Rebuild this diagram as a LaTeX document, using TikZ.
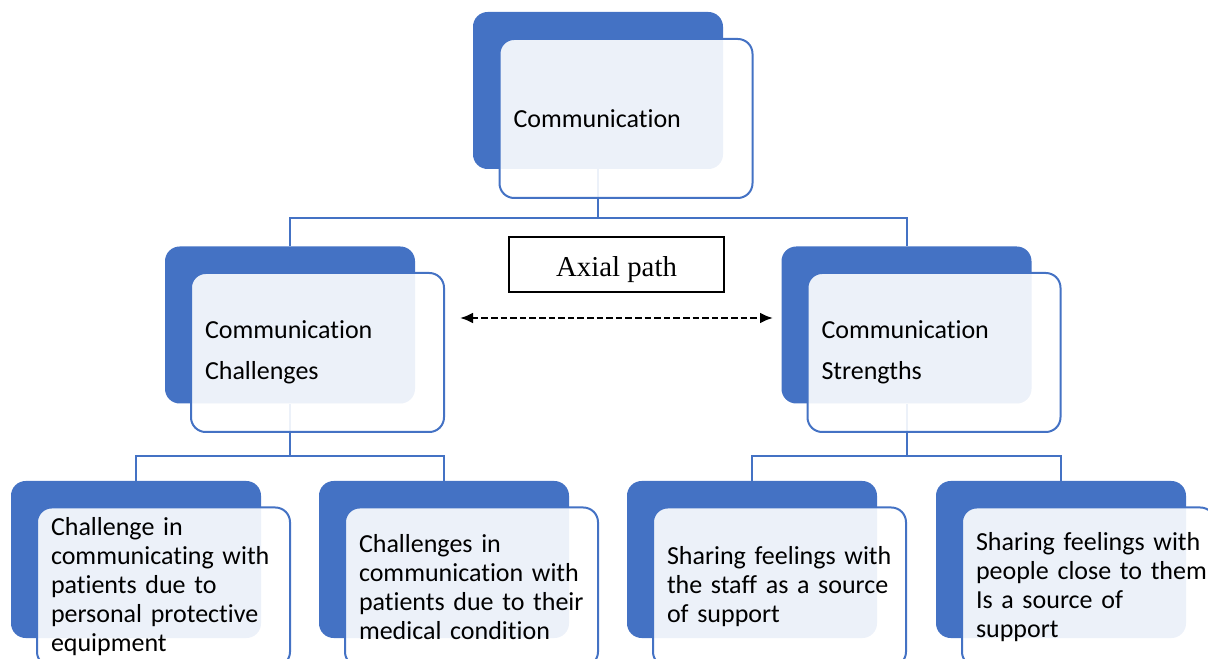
\documentclass[tikz,border=0pt]{standalone}
\usepackage{fontspec}
\setmainfont{Carlito}[Ligatures=NoCommon]
\newfontfamily\axisfont{Liberation Serif}
\usetikzlibrary{arrows.meta,backgrounds}
\definecolor{accent}{HTML}{4472C4}

\tikzset{
  back/.style={fill=accent, rounded corners=11pt, inner sep=0pt,
    minimum width=187.5pt, minimum height=117.75pt},
  front/.style={draw=accent, line width=1.5pt, fill=white, fill opacity=0.9,
    text opacity=1, rounded corners=11pt, minimum width=189.75pt,
    minimum height=119.25pt, text width=178.5pt, inner xsep=5.625pt,
    inner ysep=2pt, font=\fontsize{19.5}{21.75}\selectfont,
    execute at begin node={\raggedright\leftskip=4.875pt\relax}},
  wide/.style={font=\fontsize{19.5}{30.75}\selectfont},
  link/.style={draw=accent, line width=1.5pt},
  axial/.style={draw, line width=0.9pt, minimum width=161.25pt,
    minimum height=41.25pt, text height=23pt, text depth=4.7pt,
    font=\axisfont\fontsize{21.6}{24}\selectfont},
}

\begin{document}
\begin{tikzpicture}[x=0.75pt, y=-0.75pt]
\useasboundingbox (0,0) rectangle (1208,659);

% level 1
\node[back] (topb) at (598,90.5) {};
\node[front] (topf) at ([shift={(28,28)}]topb.center) {Communication};

% level 2
\node[back] (chb) at (290,325) {};
\node[front, wide] (chf) at ([shift={(27.5,27.5)}]chb.center) {Communication\\Challenges};
\node[back] (stb) at (906.5,325) {};
\node[front, wide] (stf) at ([shift={(27.5,27.5)}]stb.center) {Communication\\Strengths};

% level 3
\node[back] (ppeb) at (136,559.5) {};
\node[front] (ppef) at ([shift={(27.5,27.5)}]ppeb.center) {Challenge in\\communicating with\\patients due to\\personal protective\\equipment};
\node[back] (medb) at (444,559.5) {};
\node[front] (medf) at ([shift={(27.5,27.5)}]medb.center) {Challenges in\\communication with\\patients due to their\\medical condition};
\node[back] (staffb) at (752,559.5) {};
\node[front] (stafff) at ([shift={(27.5,27.5)}]staffb.center) {Sharing feelings with\\the staff as a source\\of support};
\node[back] (closeb) at (1061,559.5) {};
\node[front] (closef) at ([shift={(27.5,27.5)}]closeb.center) {Sharing feelings with\\people close to them\\Is a source of\\support};

\node[axial] (ax) at (616.5,264.5) {Axial path};
\coordinate (axL) at (460,318);
\coordinate (axR) at (773,318);
\draw[line width=1.8pt, dash pattern=on 5pt off 2.2pt,
  {Latex[length=9.75pt,width=8.25pt]}-{Latex[length=9.75pt,width=8.25pt]}] (axL) -- (axR);

\begin{scope}[on background layer]
\draw[link] (topb.south) -- ++(0,49) -| (chb.north);
\draw[link] (topb.south) -- ++(0,49) -| (stb.north);
\draw[link] (chb.south) -- ++(0,52) -| (ppeb.north);
\draw[link] (chb.south) -- ++(0,52) -| (medb.north);
\draw[link] (stb.south) -- ++(0,52) -| (staffb.north);
\draw[link] (stb.south) -- ++(0,52) -| (closeb.north);
\end{scope}
\end{tikzpicture}
\end{document}
